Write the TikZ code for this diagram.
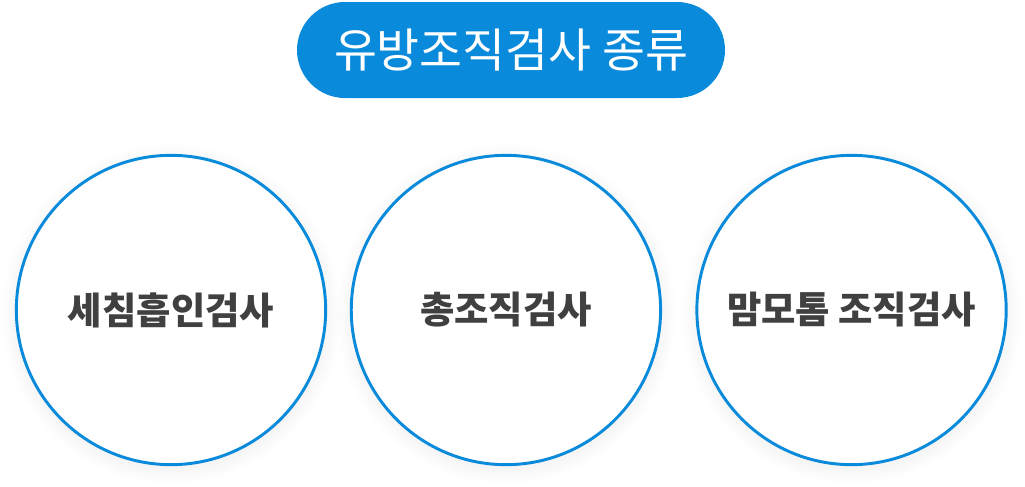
\documentclass[tikz,border=0pt]{standalone}
\usepackage{fontspec}
\setmainfont{Noto Sans CJK KR}
\usetikzlibrary{positioning,shadows}
\definecolor{hauptblau}{HTML}{0A8ADA}
\definecolor{textgrau}{HTML}{404040}

\begin{document}
\begin{tikzpicture}[x=0.75pt, y=-0.75pt,
    titel/.style={fill=hauptblau, text=white, rounded corners=36pt, minimum width=321pt, minimum height=72pt, font=\fontsize{35}{40}\selectfont},
    kreis/.style={circle, draw=hauptblau, line width=2.2pt, fill=white, minimum size=232pt, inner sep=0pt,
        text=textgrau, font=\fontsize{28}{33}\selectfont\bfseries,
        circular drop shadow={shadow xshift=0pt, shadow yshift=-2.5pt, opacity=0.12}}]
    \useasboundingbox (0,0) rectangle (1025,486);
    \node[titel] (titel) at (511,50) {유방조직검사 종류};
    \node[kreis] (seichim) at (171,310) {세침흡인검사};
    \node[kreis, right=17pt of seichim] (chong) {총조직검사};
    \node[kreis, right=25pt of chong] (mammo) {맘모톰 조직검사};
\end{tikzpicture}
\end{document}
